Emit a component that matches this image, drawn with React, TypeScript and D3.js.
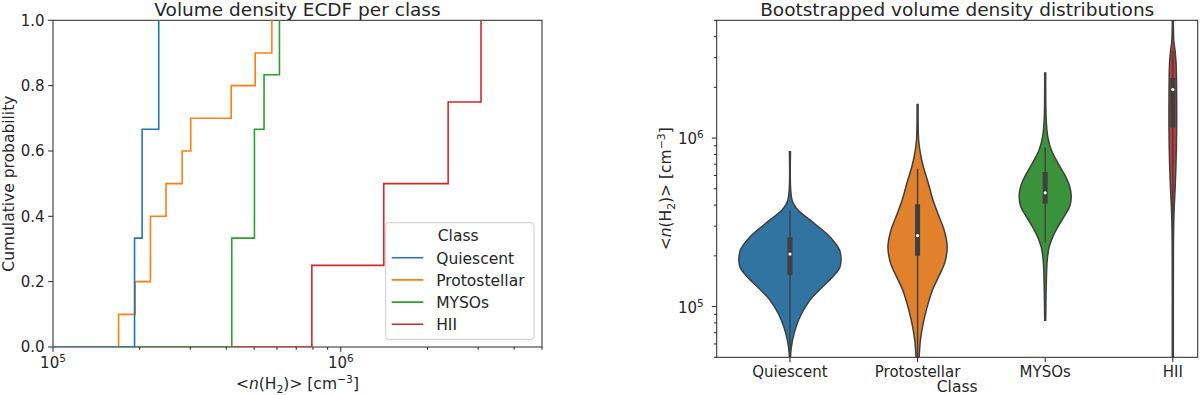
import * as d3 from "d3";

const FONT = "DejaVu Sans";
const INK = "#262626";
const EDGE = "#3f3f3f";

const CLASSES = ["Quiescent", "Protostellar", "MYSOs", "HII"];
const ECDF_COLORS = ["#1f77b4", "#ff7f0e", "#2ca02c", "#d62728"];
const VIOLIN_COLORS = ["#3274a1", "#e1812c", "#3a923a", "#c03d3e"];

// mean volume density per clump (cm^-3)
const quiescentDens = [1.92e5, 2.04e5, 2.33e5];
const protostellarDens = [1.69e5, 1.93e5, 2.18e5, 2.18e5, 2.47e5, 2.81e5, 3.01e5, 4.16e5, 5.04e5, 5.76e5];
const mysoDens = [4.18e5, 4.18e5, 5.01e5, 5.01e5, 5.41e5, 6.12e5];
const hiiDens = [7.93e5, 1.41e6, 2.36e6, 3.07e6];

const ecdfTicks = [0, 0.2, 0.4, 0.6, 0.8, 1.0];

// bootstrapped violin outlines: [density, relative kde width]
const quiescentViolin = [
  [8.3e5, 0.01], [4.9e5, 0.015], [4.2e5, 0.05], [3.75e5, 0.15], [3.27e5, 0.39], [2.6e5, 0.78],
  [2.17e5, 0.97], [1.93e5, 1.0], [1.72e5, 0.98], [1.54e5, 0.87], [1.31e5, 0.64], [1.09e5, 0.39],
  [9.1e4, 0.23], [7.6e4, 0.12], [6.3e4, 0.05], [5.3e4, 0.015], [4.5e4, 0.01],
];
const protostellarViolin = [
  [1.58e6, 0.01], [9.8e5, 0.02], [8.1e5, 0.055], [6.8e5, 0.11], [5.4e5, 0.21], [4.3e5, 0.3],
  [3.42e5, 0.42], [2.85e5, 0.52], [2.27e5, 0.58], [1.81e5, 0.53], [1.5e5, 0.41], [1.25e5, 0.29],
  [1.0e5, 0.19], [7.95e4, 0.11], [6.3e4, 0.055], [5.0e4, 0.03], [4.4e4, 0.015],
];
const mysoViolin = [
  [2.43e6, 0.01], [1.28e6, 0.02], [1.02e6, 0.05], [8.5e5, 0.12], [7.1e5, 0.25], [5.9e5, 0.4],
  [5.16e5, 0.48], [4.5e5, 0.51], [3.92e5, 0.48], [3.42e5, 0.37], [2.98e5, 0.25], [2.6e5, 0.15],
  [2.27e5, 0.08], [1.89e5, 0.04], [1.31e5, 0.02], [8.3e4, 0.01],
];
const hiiViolin = [
  [6.0e6, 0.008], [3.75e6, 0.02], [3.27e6, 0.045], [2.73e6, 0.065], [1.73e6, 0.075], [1.1e6, 0.075],
  [6.9e5, 0.062], [5.0e5, 0.045], [3.5e5, 0.022], [2.2e5, 0.012], [5.6e4, 0.01], [4.0e4, 0.01],
];

const boxQ1 = [1.54e5, 2.0e5, 4.07e5, 1.15e6];
const boxMedian = [2.05e5, 2.64e5, 4.73e5, 1.94e6];
const boxQ3 = [2.58e5, 4.05e5, 6.28e5, 2.27e6];
const whiskerLo = [4.5e4, 4.4e4, 2.4e5, 4.0e4];
const whiskerHi = [3.71e5, 6.57e5, 8.8e5, 3.3e6];

const LEFT = { x0: 53, x1: 542, y0: 20.3, y1: 347 };
const RIGHT = { x0: 716.7, x1: 1197.7, y0: 20.3, y1: 357.3 };

const TICK_FS = 15;
const LABEL_FS = 15.5;
const TITLE_FS = 18.5;

const isPow10 = (v: number) => Math.abs(Math.log10(v) - Math.round(Math.log10(v))) < 1e-9;

// <n(H2)> [cm^-3]
const DensityLabel = ({ fs }: { fs: number }) => (
  <>
    {"<"}
    <tspan fontStyle="italic">n</tspan>
    {"(H"}
    <tspan dy={fs * 0.25} fontSize={fs * 0.7}>2</tspan>
    <tspan dy={-fs * 0.25}>{")> [cm"}</tspan>
    <tspan dy={-fs * 0.4} fontSize={fs * 0.7}>−3</tspan>
    <tspan dy={fs * 0.4}>]</tspan>
  </>
);

const PowLabel = ({ v, fs }: { v: number; fs: number }) => (
  <>
    10
    <tspan dy={-fs * 0.42} fontSize={fs * 0.7}>{Math.round(Math.log10(v))}</tspan>
  </>
);

export default function App() {
  // ---- left panel: ECDF ----
  const xL = d3.scaleLog().domain([1e5, 5e6]).range([LEFT.x0, LEFT.x1]);
  const yL = d3.scaleLinear().domain([0, 1]).range([LEFT.y1, LEFT.y0]);
  const series = [quiescentDens, protostellarDens, mysoDens, hiiDens];

  const stepLine = d3
    .line<[number, number]>()
    .x((d) => xL(d[0]))
    .y((d) => yL(d[1]))
    .curve(d3.curveStepAfter);

  const ecdfPaths = series.map((vals) => {
    const sorted = [...vals].sort((a, b) => a - b);
    const n = sorted.length;
    const pts: [number, number][] = [[8e4, 0], ...sorted.map((v, i) => [v, (i + 1) / n] as [number, number])];
    return stepLine(pts);
  });

  // ---- right panel: violins ----
  const xR = d3.scaleLinear().domain([-0.574, 3.195]).range([RIGHT.x0, RIGHT.x1]);
  const yR = d3.scaleLog().domain([5e4, 5e6]).range([RIGHT.y1, RIGHT.y0]);
  const halfW = d3.scaleLinear().domain([0, 1]).range([0, 0.4 * (xR(1) - xR(0))]);
  const violins = [quiescentViolin, protostellarViolin, mysoViolin, hiiViolin];

  const legendX = 385.7;
  const legendY = 222.7;

  return (
    <svg
      width={1200}
      height={395}
      style={{ position: "absolute", left: 0, top: 0 }}
      fontFamily={FONT}
    >
      <defs>
        <clipPath id="clipL">
          <rect x={LEFT.x0} y={LEFT.y0 - 1} width={LEFT.x1 - LEFT.x0} height={LEFT.y1 - LEFT.y0 + 1} />
        </clipPath>
        <clipPath id="clipR">
          <rect x={RIGHT.x0} y={RIGHT.y0} width={RIGHT.x1 - RIGHT.x0} height={RIGHT.y1 - RIGHT.y0} />
        </clipPath>
      </defs>
      <rect width={1200} height={395} fill="white" />

      {/* ===== left: ECDF ===== */}
      <text x={(LEFT.x0 + LEFT.x1) / 2} y={15.5} textAnchor="middle" fontSize={TITLE_FS} fill={INK}>
        Volume density ECDF per class
      </text>
      <rect x={LEFT.x0} y={LEFT.y0} width={LEFT.x1 - LEFT.x0} height={LEFT.y1 - LEFT.y0} fill="none" stroke={INK} strokeWidth={1} />

      <g clipPath="url(#clipL)">
        {[3, 2, 1, 0].map((i) => (
          <path key={i} d={ecdfPaths[i] ?? ""} fill="none" stroke={ECDF_COLORS[i]} strokeWidth={1.6} />
        ))}
      </g>

      {ecdfTicks.map((t) => (
        <g key={t}>
          <line x1={LEFT.x0 - 4.9} x2={LEFT.x0} y1={yL(t)} y2={yL(t)} stroke={INK} />
          <text x={LEFT.x0 - 8.5} y={yL(t)} dy="0.36em" textAnchor="end" fontSize={TICK_FS} fill={INK}>
            {t.toFixed(1)}
          </text>
        </g>
      ))}
      {xL.ticks().map((t) => {
        const major = isPow10(t);
        return (
          <g key={t}>
            <line x1={xL(t)} x2={xL(t)} y1={LEFT.y1} y2={LEFT.y1 + (major ? 4.9 : 2.8)} stroke={INK} />
            {major && (
              <text x={xL(t)} y={LEFT.y1 + 21} textAnchor="middle" fontSize={TICK_FS} fill={INK}>
                <PowLabel v={t} fs={TICK_FS} />
              </text>
            )}
          </g>
        );
      })}
      <text x={(LEFT.x0 + LEFT.x1) / 2} y={389} textAnchor="middle" fontSize={LABEL_FS} fill={INK}>
        <DensityLabel fs={LABEL_FS} />
      </text>
      <text
        transform={`translate(14,${(LEFT.y0 + LEFT.y1) / 2}) rotate(-90)`}
        textAnchor="middle"
        fontSize={LABEL_FS}
        fill={INK}
      >
        Cumulative probability
      </text>

      {/* legend */}
      <rect x={legendX} y={legendY} width={148.3} height={116.6} rx={3} fill="white" fillOpacity={0.8} stroke="#cccccc" />
      <text x={legendX + 72.5} y={legendY + 18.5} textAnchor="middle" fontSize={LABEL_FS} fill={INK}>
        Class
      </text>
      {CLASSES.map((c, i) => {
        const ly = legendY + 35 + i * 22.2;
        return (
          <g key={c}>
            <line x1={legendX + 6} x2={legendX + 37.6} y1={ly} y2={ly} stroke={ECDF_COLORS[i]} strokeWidth={1.6} />
            <text x={legendX + 50.5} y={ly + 5.8} fontSize={LABEL_FS} fill={INK}>
              {c}
            </text>
          </g>
        );
      })}

      {/* ===== right: violins ===== */}
      <text x={(RIGHT.x0 + RIGHT.x1) / 2} y={15.5} textAnchor="middle" fontSize={TITLE_FS} fill={INK}>
        Bootstrapped volume density distributions
      </text>

      <g clipPath="url(#clipR)">
        {violins.map((prof, i) => {
          const cx = xR(i);
          const area = d3
            .area<number[]>()
            .y((d) => yR(d[0]))
            .x0((d) => cx - halfW(d[1]))
            .x1((d) => cx + halfW(d[1]))
            .curve(d3.curveCatmullRom.alpha(0.5));
          return (
            <g key={CLASSES[i]}>
              <path d={area(prof) ?? ""} fill={VIOLIN_COLORS[i]} stroke={EDGE} strokeWidth={1.5} />
              <line x1={cx} x2={cx} y1={yR(whiskerLo[i])} y2={yR(whiskerHi[i])} stroke={EDGE} strokeWidth={1.4} />
              <line x1={cx} x2={cx} y1={yR(boxQ1[i])} y2={yR(boxQ3[i])} stroke={EDGE} strokeWidth={5} />
              <circle cx={cx} cy={yR(boxMedian[i])} r={1.6} fill="white" />
            </g>
          );
        })}
      </g>
      <rect x={RIGHT.x0} y={RIGHT.y0} width={RIGHT.x1 - RIGHT.x0} height={RIGHT.y1 - RIGHT.y0} fill="none" stroke={INK} strokeWidth={1} />

      {yR.ticks().map((t) => {
        const major = isPow10(t);
        return (
          <g key={t}>
            <line x1={RIGHT.x0 - (major ? 4.9 : 2.8)} x2={RIGHT.x0} y1={yR(t)} y2={yR(t)} stroke={INK} />
            {major && (
              <text x={RIGHT.x0 - 13} y={yR(t)} dy="0.42em" textAnchor="end" fontSize={TICK_FS} fill={INK}>
                <PowLabel v={t} fs={TICK_FS} />
              </text>
            )}
          </g>
        );
      })}
      {CLASSES.map((c, i) => (
        <g key={c}>
          <line x1={xR(i)} x2={xR(i)} y1={RIGHT.y1} y2={RIGHT.y1 + 4.9} stroke={INK} />
          <text x={xR(i)} y={RIGHT.y1 + 19.5} textAnchor="middle" fontSize={TICK_FS} fill={INK}>
            {c}
          </text>
        </g>
      ))}
      <text x={(RIGHT.x0 + RIGHT.x1) / 2} y={392} textAnchor="middle" fontSize={LABEL_FS} fill={INK}>
        Class
      </text>
      <text
        transform={`translate(671,${(RIGHT.y0 + RIGHT.y1) / 2}) rotate(-90)`}
        textAnchor="middle"
        fontSize={LABEL_FS}
        fill={INK}
      >
        <DensityLabel fs={LABEL_FS} />
      </text>
    </svg>
  );
}
